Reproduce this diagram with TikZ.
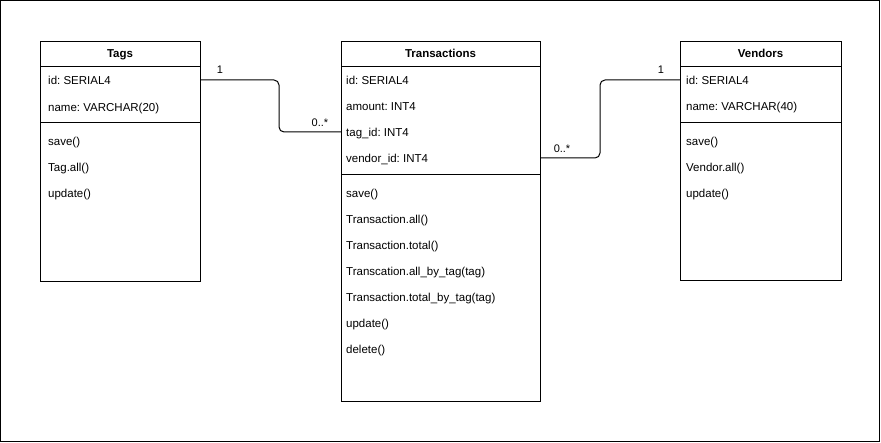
\documentclass[tikz,border=0pt]{standalone}
\usepackage{fontspec}
\setmainfont{Liberation Sans}
\frenchspacing
\begin{document}
\begin{tikzpicture}[x=1pt,y=-1pt,
  box/.style={draw,line width=1pt,anchor=north west,inner sep=0pt,minimum width=#1},
  cell/.style={anchor=base west,inner sep=0pt,font=\fontsize{11.5}{13}\selectfont},
  head/.style={anchor=base,inner sep=0pt,font=\fontsize{11.5}{13}\selectfont\bfseries},
  mult/.style={anchor=base,inner sep=0pt,font=\fontsize{11}{13}\selectfont},
  conn/.style={line width=1pt,rounded corners=5pt}]
\useasboundingbox (0,0) rectangle (881,443);
\draw[line width=1.2pt] (0.6,0.6) rectangle (879.4,441.6);
% Tags
\node[box=160pt,minimum height=240pt] (tags) at (40,41) {};
\draw[line width=1pt] (40,67) -- (200,67) (40,123) -- (200,123);
\node[head] (tagsh) at (120,57.8) {Tags};
\node[cell] (tg1) at (48,84.8) {id: SERIAL4};
\node[cell] (tg2) at (48,111.5) {name: VARCHAR(20)};
\node[cell] (tg3) at (48,145.5) {save()};
\node[cell] (tg4) at (48,171.5) {Tag.all()};
\node[cell] (tg5) at (48,197.5) {update()};
% Transactions
\node[box=199pt,minimum height=360pt] (tr) at (341,41) {};
\draw[line width=1pt] (341,67) -- (540,67) (341,175) -- (540,175);
\node[head] (trh) at (440.5,57.8) {Transactions};
\node[cell] (t1) at (346,84.8) {id: SERIAL4};
\node[cell] (t2) at (346,110.8) {amount: INT4};
\node[cell] (t3) at (346,136.8) {tag\_id: INT4};
\node[cell] (t4) at (346,162.8) {vendor\_id: INT4};
\node[cell] (t5) at (346,197.5) {save()};
\node[cell] (t6) at (346,223.5) {Transaction.all()};
\node[cell] (t7) at (346,249.5) {Transaction.total()};
\node[cell] (t8) at (346,275.5) {Transcation.all\_by\_tag(tag)};
\node[cell] (t9) at (346,301.5) {Transaction.total\_by\_tag(tag)};
\node[cell] (t10) at (346,327.5) {update()};
\node[cell] (t11) at (346,353.5) {delete()};
% Vendors
\node[box=161pt,minimum height=239pt] (ven) at (680,41) {};
\draw[line width=1pt] (680,67) -- (841,67) (680,123) -- (841,123);
\node[head] (venh) at (760.5,57.8) {Vendors};
\node[cell] (v1) at (686,84.8) {id: SERIAL4};
\node[cell] (v2) at (686,110.8) {name: VARCHAR(40)};
\node[cell] (v3) at (686,145.5) {save()};
\node[cell] (v4) at (686,171.5) {Vendor.all()};
\node[cell] (v5) at (686,197.5) {update()};
% connectors
\coordinate (c1) at (279,80);
\coordinate (c2) at (600,158);
\coordinate (e1) at (200,80);
\coordinate (e2) at (341,132);
\coordinate (e3) at (540,158);
\coordinate (e4) at (680,80);
\draw[conn] (e1) -- (c1) |- (e2);
\draw[conn] (e3) -- (c2) |- (e4);
\node[mult] (m1) at (220,74) {1};
\node[mult] (m2) at (320,127) {0..*};
\node[mult] (m3) at (562,153) {0..*};
\node[mult] (m4) at (661,74) {1};
\end{tikzpicture}
\end{document}
